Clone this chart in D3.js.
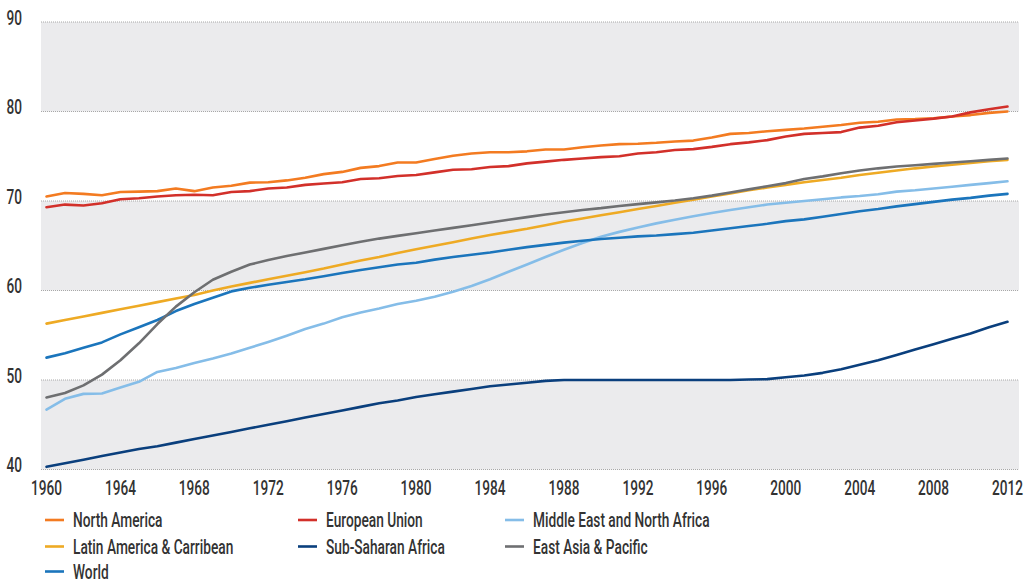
<!DOCTYPE html>
<html><head><meta charset="utf-8">
<script src="https://cdn.jsdelivr.net/npm/d3@7"></script>
<style>
body{margin:0;background:#fff}
svg{display:block}
text{font-family:Roboto,"Liberation Sans",sans-serif;fill:#333;font-weight:500}
</style>
</head><body>
<svg id="chart" width="1024" height="580"></svg>
<script>
const years = d3.range(1960, 2013);

const northAmerica = [70.5,70.9,70.8,70.65,71.0,71.05,71.1,71.4,71.1,71.5,71.7,72.05,72.1,72.3,72.6,73.0,73.25,73.7,73.9,74.3,74.3,74.7,75.05,75.3,75.45,75.45,75.55,75.75,75.75,76.0,76.2,76.35,76.4,76.5,76.65,76.75,77.1,77.5,77.6,77.8,77.95,78.1,78.3,78.5,78.75,78.85,79.1,79.15,79.25,79.45,79.6,79.85,80.0];
const europeanUnion = [69.3,69.6,69.5,69.75,70.2,70.3,70.5,70.65,70.7,70.65,71.0,71.1,71.4,71.5,71.8,71.95,72.1,72.45,72.55,72.8,72.9,73.2,73.5,73.55,73.8,73.9,74.2,74.4,74.6,74.75,74.9,75.0,75.3,75.45,75.7,75.8,76.05,76.35,76.55,76.8,77.2,77.5,77.6,77.7,78.2,78.4,78.8,79.0,79.2,79.45,79.9,80.25,80.55];
const middleEast = [46.7,47.9,48.45,48.5,49.15,49.8,50.9,51.35,51.9,52.4,52.95,53.6,54.25,54.95,55.7,56.3,57.0,57.55,58.0,58.5,58.85,59.3,59.85,60.5,61.25,62.1,62.9,63.75,64.55,65.3,66.0,66.55,67.05,67.5,67.9,68.3,68.65,69.0,69.3,69.6,69.8,70.0,70.2,70.4,70.55,70.75,71.05,71.2,71.4,71.6,71.8,72.0,72.2];
const latinAmerica = [56.3,56.7,57.1,57.5,57.9,58.3,58.7,59.1,59.5,60.0,60.45,60.85,61.25,61.65,62.05,62.45,62.9,63.35,63.75,64.2,64.6,65.0,65.4,65.8,66.2,66.55,66.9,67.3,67.7,68.05,68.4,68.75,69.1,69.45,69.8,70.15,70.5,70.85,71.2,71.5,71.8,72.1,72.35,72.6,72.9,73.15,73.4,73.65,73.85,74.05,74.25,74.45,74.6];
const subSaharan = [40.3,40.7,41.1,41.5,41.9,42.3,42.6,43.0,43.4,43.8,44.2,44.6,45.0,45.4,45.8,46.2,46.6,47.0,47.4,47.7,48.1,48.4,48.7,49.0,49.3,49.5,49.7,49.9,50.0,50.0,50.0,50.0,50.0,50.0,50.0,50.0,50.0,50.0,50.05,50.1,50.3,50.5,50.8,51.2,51.7,52.2,52.8,53.4,54.0,54.6,55.2,55.9,56.5];
const eastAsia = [48.05,48.55,49.4,50.6,52.2,54.1,56.25,58.2,59.8,61.2,62.1,62.9,63.4,63.85,64.25,64.65,65.05,65.45,65.8,66.1,66.4,66.7,67.0,67.3,67.6,67.9,68.2,68.5,68.75,69.0,69.2,69.45,69.65,69.85,70.05,70.3,70.6,70.95,71.3,71.65,72.0,72.45,72.75,73.1,73.4,73.65,73.85,74.0,74.15,74.3,74.45,74.6,74.75];
const world = [52.5,53.0,53.6,54.2,55.1,55.9,56.7,57.7,58.5,59.2,59.9,60.3,60.65,60.95,61.25,61.6,61.95,62.3,62.6,62.9,63.1,63.45,63.75,64.0,64.25,64.55,64.85,65.1,65.35,65.55,65.75,65.9,66.05,66.15,66.3,66.45,66.7,66.95,67.2,67.45,67.75,67.95,68.25,68.55,68.85,69.1,69.4,69.65,69.9,70.15,70.35,70.6,70.8];

const seriesNames = ["North America","European Union","Middle East and North Africa","Latin America & Carribean","Sub-Saharan Africa","East Asia & Pacific","World"];
const seriesValues = [northAmerica, europeanUnion, middleEast, latinAmerica, subSaharan, eastAsia, world];
const seriesColors = ["#f37b21","#d2302a","#85bde8","#eeaa24","#0a3f7d","#6e6f71","#1b75bc"];
const drawOrder = [4,2,6,3,5,0,1];

const yTicks = [40,50,60,70,80,90];
const bands = [[80,90],[60,70],[40,50]];
const xTicks = d3.range(1960, 2013, 4);

const svg = d3.select("#chart");
const x = d3.scaleLinear().domain([1960, 2012]).range([46.5, 1007.5]);
const y = d3.scaleLinear().domain([40, 90]).range([469.5, 22]);
const plotLeft = 41, plotRight = 1019;

// horizontal condensing factors measured against the reference text widths
function fitScale(str, size, target) {
  const t = svg.append("text").attr("font-size", size).text(str);
  const w = t.node().getComputedTextLength();
  t.remove();
  return target / w;
}
const axisScale = fitScale("1960", 20, 31);
const legendScale = fitScale("North America", 20, 89.5);

// bands
svg.append("g").selectAll("rect").data(bands).join("rect")
  .attr("x", plotLeft).attr("width", plotRight - plotLeft)
  .attr("y", d => y(d[1])).attr("height", d => y(d[0]) - y(d[1]))
  .attr("fill", "#ebebed");

// grid lines
svg.append("g").selectAll("line").data(yTicks).join("line")
  .attr("x1", plotLeft).attr("x2", plotRight)
  .attr("y1", d => y(d)).attr("y2", d => y(d))
  .attr("stroke", "#a8a8a8").attr("stroke-width", 1).attr("stroke-dasharray", "1,1");

// y labels
svg.append("g").selectAll("text").data(yTicks).join("text")
  .attr("transform", d => `translate(6.5,${y(d) + 2.5}) scale(${axisScale},1)`)
  .attr("font-size", 20).text(d => d);

// x labels
svg.append("g").selectAll("text").data(xTicks).join("text")
  .attr("transform", d => `translate(${x(d)},495) scale(${axisScale},1)`)
  .attr("text-anchor", "middle").attr("font-size", 20).text(d => d);

// lines
const line = d3.line().x((d, i) => x(years[i])).y(d => y(d)).curve(d3.curveLinear);
svg.append("g").selectAll("path").data(drawOrder).join("path")
  .attr("d", i => line(seriesValues[i]))
  .attr("fill", "none").attr("stroke", i => seriesColors[i])
  .attr("stroke-width", 2.6).attr("stroke-linejoin", "round").attr("stroke-linecap", "round");

// legend
const colX = [45, 298, 505];
const rowY = [520, 546.5, 571.5];
const lg = svg.append("g").selectAll("g").data(seriesNames).join("g")
  .attr("transform", (d, i) => `translate(${colX[i % 3]},${rowY[Math.floor(i / 3)]})`);
lg.append("line").attr("x1", 0).attr("x2", 19).attr("y1", 0).attr("y2", 0)
  .attr("stroke", (d, i) => seriesColors[i]).attr("stroke-width", 2.6);
lg.append("text").attr("transform", `translate(28,7.3) scale(${legendScale},1)`)
  .attr("font-size", 20).text(d => d);
</script>
</body></html>
